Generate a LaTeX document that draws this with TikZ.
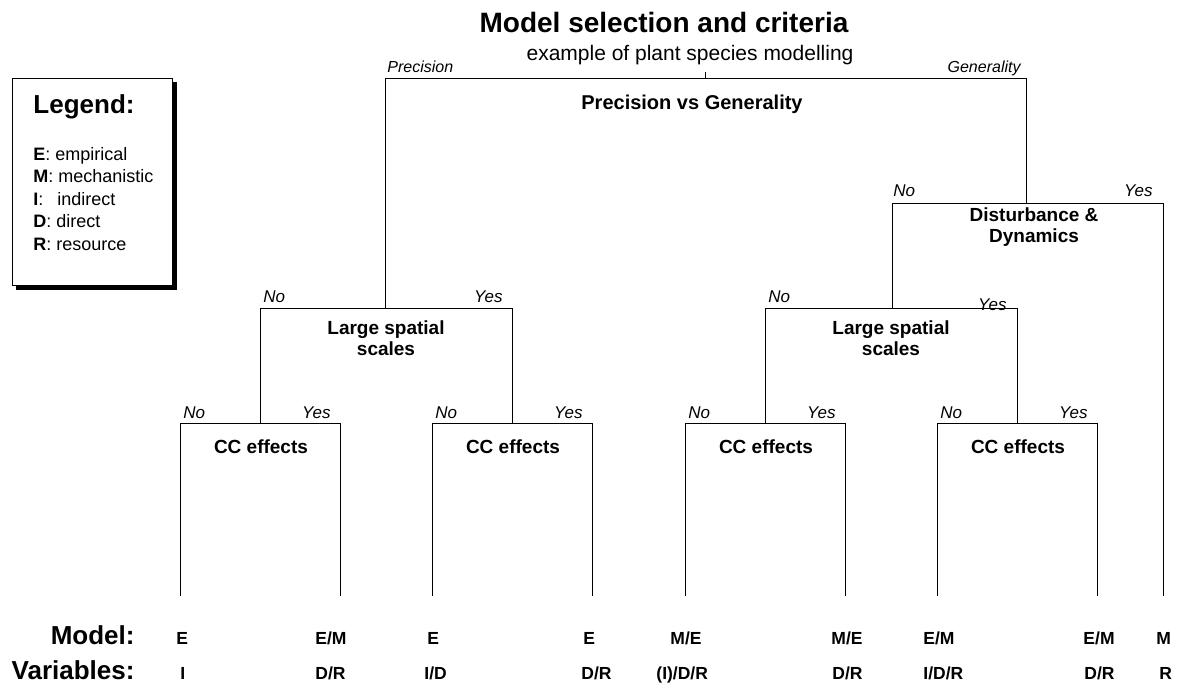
\documentclass[tikz,border=0pt]{standalone}
\usepackage{fontspec}
\setmainfont{Liberation Sans}
\begin{document}
\begin{tikzpicture}[x=1pt,y=-1pt,line width=0.9pt,
  branch/.style={line width=0.9pt},
  qtext/.style={font=\fontsize{19}{21.5}\selectfont\bfseries,align=center,inner sep=0pt},
  yn/.style={font=\fontsize{17}{20}\selectfont\itshape,inner sep=0pt},
  leaflab/.style={font=\fontsize{17.5}{20}\selectfont\bfseries,inner sep=0pt,anchor=base west},
  rowlab/.style={font=\fontsize{26}{30}\selectfont\bfseries,inner sep=0pt,anchor=base east},
  legtext/.style={font=\fontsize{18}{21}\selectfont,inner sep=0pt,anchor=base west}]
\useasboundingbox (0,0) rectangle (1183,685);

% ---- title ----
\node[font=\fontsize{28}{32}\selectfont\bfseries,inner sep=0pt,anchor=base] (title) at (664,33) {Model selection and criteria};
\node[font=\fontsize{21}{24}\selectfont,inner sep=0pt,anchor=base] (subtitle) at (690,60) {example of plant species modelling};

% ---- legend ----
\node[draw,line width=1.2pt,fill=white,minimum width=160pt,minimum height=207pt,inner sep=0pt,anchor=north west] (legend) at (12,78) {};
\draw[line width=3.5pt] ([xshift=2pt,yshift=-4pt]legend.north east) -- ([xshift=2pt,yshift=-2pt]legend.south east) -- ([xshift=4pt,yshift=-2pt]legend.south west);
\node[font=\fontsize{26}{30}\selectfont\bfseries,inner sep=0pt,anchor=base west] (legtitle) at (33,113) {Legend:};
\node[legtext] (legE) at (33,160) {\textbf{E}: empirical};
\node[legtext] (legM) at (33,182.5) {\textbf{M}: mechanistic};
\node[legtext] (legI) at (33,205) {\textbf{I}:\hspace{14pt}indirect};
\node[legtext] (legD) at (33,227.5) {\textbf{D}: direct};
\node[legtext] (legR) at (33,250) {\textbf{R}: resource};

% ---- coordinates of the tree ----
\coordinate (tick) at (705.5,72);
% Precision vs Generality
\coordinate (pg-l) at (385,78);  \coordinate (pg-c) at (705.5,78); \coordinate (pg-r) at (1026,78);
% Disturbance & Dynamics
\coordinate (dd-l) at (892,203); \coordinate (dd-c) at (1026,203); \coordinate (dd-r) at (1163,203);
% Large spatial scales (left / right)
\coordinate (la-l) at (260,308); \coordinate (la-c) at (385,308); \coordinate (la-r) at (512,308);
\coordinate (lb-l) at (765,308); \coordinate (lb-c) at (892,308); \coordinate (lb-r) at (1017,308);
% CC effects boxes
\coordinate (c1-l) at (180,423); \coordinate (c1-c) at (260,423); \coordinate (c1-r) at (340,423);
\coordinate (c2-l) at (432,423); \coordinate (c2-c) at (512,423); \coordinate (c2-r) at (592,423);
\coordinate (c3-l) at (685,423); \coordinate (c3-c) at (765,423); \coordinate (c3-r) at (845,423);
\coordinate (c4-l) at (937,423); \coordinate (c4-c) at (1017,423); \coordinate (c4-r) at (1097,423);
% leaves
\coordinate (f1) at (180,596); \coordinate (f2) at (340,596);
\coordinate (f3) at (432,596); \coordinate (f4) at (592,596);
\coordinate (f5) at (685,596); \coordinate (f6) at (845,596);
\coordinate (f7) at (937,596); \coordinate (f8) at (1097,596);
\coordinate (f9) at (1163,596);

% ---- branches ----
\draw[branch] (tick) -- (pg-c);
\draw[branch] (la-c) -- (pg-l) -- (pg-r) -- (dd-c);
\draw[branch] (lb-c) -- (dd-l) -- (dd-r) -- (f9);
\draw[branch] (c1-c) -- (la-l) -- (la-r) -- (c2-c);
\draw[branch] (c3-c) -- (lb-l) -- (lb-r) -- (c4-c);
\draw[branch] (f1) -- (c1-l) -- (c1-r) -- (f2);
\draw[branch] (f3) -- (c2-l) -- (c2-r) -- (f4);
\draw[branch] (f5) -- (c3-l) -- (c3-r) -- (f6);
\draw[branch] (f7) -- (c4-l) -- (c4-r) -- (f8);

% ---- question texts ----
\node[qtext,font=\fontsize{20}{22}\selectfont\bfseries,anchor=base] (pgtext) at (692,110) {Precision vs Generality};
\node[qtext,anchor=north] (ddtext) at (1034,207) {Disturbance \&\\Dynamics};
\node[qtext,anchor=north] (latext) at (386,320) {Large spatial\\scales};
\node[qtext,anchor=north] (lbtext) at (891,320) {Large spatial\\scales};
\node[qtext,anchor=base] (c1text) at (261,453) {CC effects};
\node[qtext,anchor=base] (c2text) at (513,453) {CC effects};
\node[qtext,anchor=base] (c3text) at (766,453) {CC effects};
\node[qtext,anchor=base] (c4text) at (1018,453) {CC effects};

% ---- branch labels ----
\node[font=\fontsize{16}{19}\selectfont\itshape,inner sep=0pt,anchor=base west] (prec) at (387,73) {Precision};
\node[font=\fontsize{16}{19}\selectfont\itshape,inner sep=0pt,anchor=base east] (gen) at (1021,73) {Generality};
\node[yn,anchor=base west] (ddno) at (893,196) {No};
\node[yn,anchor=base east] (ddyes) at (1153,196) {Yes};
\node[yn,anchor=base west] (lano) at (263,302) {No};
\node[yn,anchor=base east] (layes) at (503,302) {Yes};
\node[yn,anchor=base west] (lbno) at (768,302) {No};
\node[yn,anchor=base east] (lbyes) at (1007,310) {Yes};
\node[yn,anchor=base west] (c1no) at (183,418) {No};
\node[yn,anchor=base east] (c1yes) at (331,418) {Yes};
\node[yn,anchor=base west] (c2no) at (435,418) {No};
\node[yn,anchor=base east] (c2yes) at (583,418) {Yes};
\node[yn,anchor=base west] (c3no) at (688,418) {No};
\node[yn,anchor=base east] (c3yes) at (836,418) {Yes};
\node[yn,anchor=base west] (c4no) at (940,418) {No};
\node[yn,anchor=base east] (c4yes) at (1088,418) {Yes};

% ---- bottom rows ----
\node[rowlab] (modlab) at (135,644) {Model:};
\node[rowlab] (varlab) at (135,679) {Variables:};
\node[leaflab] (m1) at (176,644) {E};     \node[leaflab] (v1) at (180,679) {I};
\node[leaflab] (m2) at (315,644) {E/M};   \node[leaflab] (v2) at (315,679) {D/R};
\node[leaflab] (m3) at (427,644) {E};     \node[leaflab] (v3) at (424,679) {I/D};
\node[leaflab] (m4) at (583,644) {E};     \node[leaflab] (v4) at (581,679) {D/R};
\node[leaflab] (m5) at (670,644) {M/E};   \node[leaflab] (v5) at (656,679) {(I)/D/R};
\node[leaflab] (m6) at (831,644) {M/E};   \node[leaflab] (v6) at (832,679) {D/R};
\node[leaflab] (m7) at (923,644) {E/M};   \node[leaflab] (v7) at (923,679) {I/D/R};
\node[leaflab] (m8) at (1083,644) {E/M};  \node[leaflab] (v8) at (1084,679) {D/R};
\node[leaflab] (m9) at (1156,644) {M};    \node[leaflab] (v9) at (1159,679) {R};
\end{tikzpicture}
\end{document}
